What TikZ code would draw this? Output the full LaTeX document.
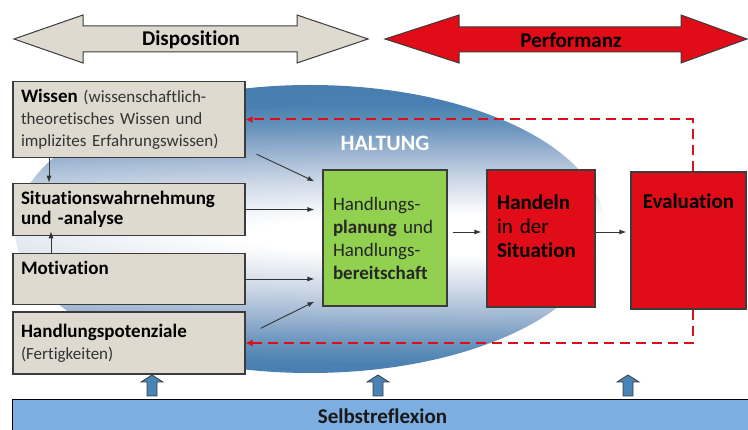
\documentclass[tikz,border=0pt]{standalone}
\usepackage{fontspec}
\setmainfont[Ligatures=NoCommon]{Carlito}
\usetikzlibrary{arrows.meta}

\definecolor{kastengrau}{RGB}{222,218,208}
\definecolor{signalrot}{RGB}{224,12,24}
\definecolor{planungsgruen}{RGB}{146,208,80}
\definecolor{hellblau}{RGB}{125,174,226}
\definecolor{stahlblau}{RGB}{72,132,182}
\definecolor{rahmen}{RGB}{60,60,60}
\definecolor{haltungzart}{RGB}{204,215,230}
\definecolor{haltunghell}{RGB}{150,176,206}
\definecolor{haltungmittel}{RGB}{102,146,188}
\definecolor{haltungrand}{RGB}{74,129,178}
\definecolor{haltungdunkel}{RGB}{62,116,168}
\pgfdeclareradialshading{haltung}{\pgfpoint{0bp}{0bp}}{color(0bp)=(white); color(5bp)=(white); color(14bp)=(haltungzart); color(21.6bp)=(haltunghell); color(27.4bp)=(haltungmittel); color(32.4bp)=(haltungrand); color(50bp)=(haltungdunkel)}

\begin{document}
\begin{tikzpicture}[x=1pt,y=-1pt,
  kasten/.style={draw=rahmen, line width=1.2pt, fill=kastengrau, minimum width=232pt, text width=216pt, inner sep=8pt, align=left, text=black!80, font=\fontsize{17}{22}\selectfont},
  rotkasten/.style={draw=rahmen, line width=1.2pt, fill=signalrot, inner sep=10pt, align=left, font=\fontsize{21}{24}\selectfont},
  pfeil/.style={draw=black!80, line width=0.9pt, -{Latex[length=7pt,width=5pt]}},
  rueck/.style={draw=signalrot, line width=2pt, dash pattern=on 10pt off 6pt, -{Latex[length=7pt,width=7pt]}},
  pfeiltext/.style={font=\fontsize{21}{24}\selectfont\bfseries},
  hochpfeil/.style={draw=rahmen, line width=0.8pt, fill=stahlblau}]
\useasboundingbox (0,0) rectangle (748,430);

\begin{scope}
  \clip (310,229) ellipse [x radius=295pt, y radius=144pt];
  \begin{scope}[transform canvas={shift={(480pt,-235pt)}, xscale=48, yscale=3.99}]
    \node[inner sep=0pt] (haltungsfeld) at (0,0) {\pgfuseshading{haltung}};
  \end{scope}
\end{scope}

\draw[draw=rahmen, line width=1pt, fill=kastengrau] (14,39) -- (83,15) -- (83,26) -- (297,26) -- (297,15) -- (368,39) -- (297,63) -- (297,52) -- (83,52) -- (83,63) -- cycle;
\node[pfeiltext] (dispo) at (191,40) {Disposition};
\draw[draw=rahmen, line width=1pt, fill=signalrot] (385,39) -- (459,15) -- (459,27) -- (681,27) -- (681,15) -- (747,39) -- (681,63) -- (681,52) -- (459,52) -- (459,63) -- cycle;
\node[pfeiltext] (perf) at (571,40) {Performanz};

\node[text=white, font=\fontsize{22}{24}\selectfont\bfseries] (haltung) at (385,143) {HALTUNG};

\node[kasten, minimum height=63pt] (wissen) at (129,119.5) {{\color{black}\bfseries\fontsize{19}{19}\selectfont Wissen} (wissenschaftlich-\\theoretisches Wissen und\\implizites Erfahrungswissen)};
\node[kasten, minimum height=49pt, text=black, font=\fontsize{19}{20}\selectfont\bfseries] (situation) at (129,209.5) {Situationswahrnehmung\\und -analyse};
\node[kasten, minimum height=50pt, text=black, font=\fontsize{19}{22}\selectfont\bfseries] (motivation) at (129,279) {Motivation\\\mbox{}};
\node[kasten, minimum height=62pt] (potenz) at (129,343) {{\color{black}\bfseries\fontsize{19}{19}\selectfont Handlungspotenziale}\\(Fertigkeiten)};

\node[draw=rahmen, line width=1.2pt, fill=planungsgruen, minimum width=124pt, minimum height=136pt, text width=104pt, align=left, text=black!85, font=\fontsize{19}{23}\selectfont] (plan) at (385,238) {Handlungs-\\\textbf{planung} und\\Handlungs-\\\textbf{bereitschaft}};
\node[rotkasten, minimum width=108pt, minimum height=137pt, text width=88pt] (handeln) at (541,238.5) {\textbf{Handeln}\\in der\\\textbf{Situation}\\\mbox{}};
\node[rotkasten, minimum width=115pt, minimum height=137pt, label={[anchor=north, yshift=-19pt, font=\fontsize{21}{24}\selectfont\bfseries]north:Evaluation}] (eval) at (688.5,240.5) {};

\draw[rueck] ([xshift=4pt]eval.north) |- (wissen.east);
\draw[rueck] ([xshift=4pt]eval.south) |- (potenz.east);

\draw[pfeil] ([xshift=-80pt]wissen.south) -- ([xshift=-80pt]situation.north);
\draw[pfeil] ([xshift=-78pt]motivation.north) -- ([xshift=-78pt,yshift=5pt]situation.south);
\draw[pfeil] ([xshift=11pt,yshift=4pt]wissen.south east) -- ([xshift=-8pt,yshift=-12pt]plan.north west);
\draw[pfeil] (situation.east) -- ([xshift=-8pt]situation.east -| plan.west);
\draw[pfeil] (motivation.east) -- ([xshift=-8pt]motivation.east -| plan.west);
\draw[pfeil] ([xshift=15pt,yshift=-17pt]potenz.north east) -- ([xshift=-8pt,yshift=5pt]plan.south west);
\draw[pfeil] ([xshift=5pt,yshift=6pt]plan.east) -- ([xshift=-5pt,yshift=6pt]plan.east -| handeln.west);
\draw[pfeil] ([yshift=6pt]plan.east -| handeln.east) -- ([xshift=-4pt,yshift=6pt]plan.east -| eval.west);

\node[draw=black, line width=1pt, fill=hellblau, minimum width=740pt, minimum height=33pt, anchor=north west, text=black!90, font=\fontsize{21}{24}\selectfont\bfseries] (selbst) at (12,399) {Selbstreflexion};
\foreach \x in {152,378,628}
  \draw[hochpfeil] ({\x-5},396) -- ({\x-5},382) -- ({\x-11},382) -- (\x,375) -- ({\x+11},382) -- ({\x+5},382) -- ({\x+5},396) -- cycle;
\end{tikzpicture}
\end{document}
